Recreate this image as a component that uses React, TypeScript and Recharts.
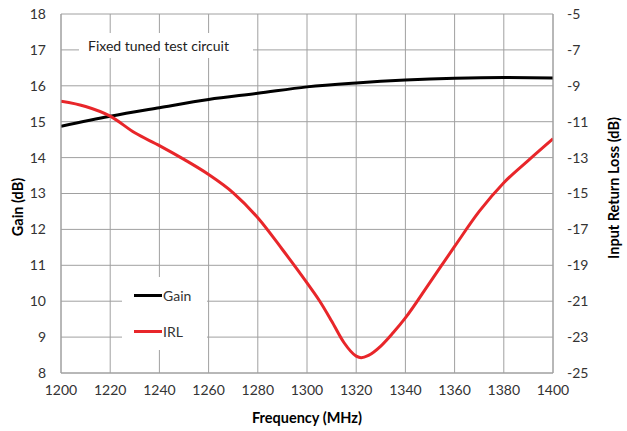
import React from 'react';
import { ComposedChart, Line, XAxis, YAxis, CartesianGrid, Legend } from 'recharts';

const freqTicks = [1200, 1220, 1240, 1260, 1280, 1300, 1320, 1340, 1360, 1380, 1400];
const freqMinorTicks = [1210, 1230, 1250, 1270, 1290, 1310, 1330, 1350, 1370, 1390];
const gainTicks = [8, 9, 10, 11, 12, 13, 14, 15, 16, 17, 18];
const gainMinorTicks = [8.5, 9.5, 10.5, 11.5, 12.5, 13.5, 14.5, 15.5, 16.5, 17.5];
const irlTicks = [-25, -23, -21, -19, -17, -15, -13, -11, -9, -7, -5];
const irlMinorTicks = [-24, -22, -20, -18, -16, -14, -12, -10, -8, -6];

const gainFreq = [1200, 1220, 1240, 1260, 1280, 1300, 1320, 1340, 1360, 1380, 1400];
const gainValues = [14.87, 15.15, 15.39, 15.62, 15.79, 15.97, 16.08, 16.16, 16.21, 16.23, 16.22];

const irlFreq = [1200, 1210, 1220, 1230, 1240, 1250, 1260, 1270, 1280, 1290, 1300, 1305, 1310, 1315, 1320, 1322, 1325, 1330, 1335, 1340, 1350, 1360, 1370, 1380, 1390, 1400];
const irlValues = [-9.86, -10.15, -10.69, -11.62, -12.33, -13.1, -13.94, -14.96, -16.35, -18.12, -19.98, -20.96, -22.1, -23.3, -24.06, -24.15, -24.02, -23.5, -22.76, -21.93, -19.95, -17.95, -16.0, -14.4, -13.15, -11.95];

const gainData = gainFreq.map((f, i) => ({ f, v: gainValues[i] }));
const irlData = irlFreq.map((f, i) => ({ f, v: irlValues[i] }));

const FONT = 'Lato, "Open Sans", sans-serif';
const GRID = '#a0a0a0';
const RED = '#e8262a';

const MinorTickX = (p: any) => (
  <line x1={p.x} x2={p.x} y1={p.y} y2={p.y - 4} stroke={GRID} strokeWidth={1} />
);
const MinorTickLeft = (p: any) => (
  <line x1={p.x} x2={p.x + 4} y1={p.y} y2={p.y} stroke={GRID} strokeWidth={1} />
);
const MinorTickRight = (p: any) => (
  <line x1={p.x} x2={p.x - 4} y1={p.y} y2={p.y} stroke={GRID} strokeWidth={1} />
);

const tickStyle = { fontFamily: FONT, fontSize: 14, fill: '#333' };
const titleStyle = { fontFamily: FONT, fontSize: 14.5, fontWeight: 700, fill: '#000' };

const LegendContent = () => (
  <div
    style={{
      background: '#fff',
      width: 85,
      height: 73,
      position: 'relative',
      fontFamily: FONT,
      fontSize: 14,
      color: '#333',
    }}
  >
    {[
      { name: 'Gain', color: '#000', top: 18 },
      { name: 'IRL', color: RED, top: 54 },
    ].map((e) => (
      <div key={e.name} style={{ position: 'absolute', left: 12, top: e.top - 9, height: 18, display: 'flex', alignItems: 'center' }}>
        <div style={{ width: 28, height: 3, background: e.color }} />
        <span style={{ marginLeft: 1 }}>{e.name}</span>
      </div>
    ))}
  </div>
);

export default function App() {
  return (
    <div style={{ position: 'absolute', left: 0, top: 0, width: 627, height: 431, background: '#fff' }}>
      <ComposedChart width={627} height={431} margin={{ top: 14, right: 0, bottom: 0, left: 0 }}>
        <XAxis
          xAxisId="minor"
          type="number"
          dataKey="f"
          domain={[1200, 1400]}
          ticks={freqMinorTicks}
          allowDataOverflow
          height={0}
          axisLine={false}
          tickLine={false}
          tickSize={0}
          tickMargin={0}
          tick={<MinorTickX />}
        />
        <XAxis
          xAxisId="main"
          type="number"
          dataKey="f"
          domain={[1200, 1400]}
          ticks={freqTicks}
          allowDataOverflow
          height={58}
          axisLine={{ stroke: GRID }}
          tickLine={false}
          tickSize={0}
          tickMargin={12}
          tick={tickStyle}
          label={{
            value: 'Frequency (MHz)',
            position: 'insideBottom',
            offset: 8,
            style: titleStyle,
          }}
        />
        <YAxis
          yAxisId="leftMinor"
          orientation="left"
          type="number"
          domain={[8, 18]}
          ticks={gainMinorTicks}
          allowDataOverflow
          width={0}
          axisLine={false}
          tickLine={false}
          tickSize={0}
          tickMargin={0}
          tick={<MinorTickLeft />}
        />
        <YAxis
          yAxisId="left"
          orientation="left"
          type="number"
          domain={[8, 18]}
          ticks={gainTicks}
          allowDataOverflow
          width={61}
          axisLine={{ stroke: GRID }}
          tickLine={false}
          tickSize={0}
          tickMargin={15}
          tick={tickStyle}
          label={(props: any) => {
            const vb = props.viewBox || {};
            const cx = (vb.x ?? 0) + 17;
            const cy = 207;
            return (
              <text
                x={cx}
                y={cy}
                transform={`rotate(-90 ${cx} ${cy})`}
                textAnchor="middle"
                dominantBaseline="central"
                style={titleStyle}
              >
                Gain (dB)
              </text>
            );
          }}
        />
        <YAxis
          yAxisId="rightMinor"
          orientation="right"
          type="number"
          domain={[-25, -5]}
          ticks={irlMinorTicks}
          allowDataOverflow
          width={0}
          axisLine={false}
          tickLine={false}
          tickSize={0}
          tickMargin={0}
          tick={<MinorTickRight />}
        />
        <YAxis
          yAxisId="right"
          orientation="right"
          type="number"
          domain={[-25, -5]}
          ticks={irlTicks}
          allowDataOverflow
          width={74}
          axisLine={{ stroke: GRID }}
          tickLine={false}
          tickSize={0}
          tickMargin={14}
          tick={tickStyle}
          label={(props: any) => {
            const vb = props.viewBox || {};
            const cx = (vb.x ?? 553) + 60;
            const cy = 188;
            return (
              <text
                x={cx}
                y={cy}
                transform={`rotate(-90 ${cx} ${cy})`}
                textAnchor="middle"
                dominantBaseline="central"
                style={titleStyle}
              >
                Input Return Loss (dB)
              </text>
            );
          }}
        />
        <CartesianGrid xAxisId="main" yAxisId="left" stroke={GRID} strokeWidth={1} />
        <Legend
          layout="vertical"
          align="center"
          verticalAlign="middle"
          wrapperStyle={{ position: 'absolute', left: 122, top: 277, width: 85, height: 73 }}
          content={<LegendContent />}
        />
        <Line
          xAxisId="main"
          yAxisId="left"
          data={gainData}
          dataKey="v"
          name="Gain"
          type="monotone"
          stroke="#000"
          strokeWidth={3}
          dot={false}
          isAnimationActive={false}
        />
        <Line
          xAxisId="main"
          yAxisId="right"
          data={irlData}
          dataKey="v"
          name="IRL"
          type="monotone"
          stroke={RED}
          strokeWidth={3}
          dot={false}
          isAnimationActive={false}
        />
      </ComposedChart>
      <div
        style={{
          position: 'absolute',
          left: 79,
          top: 33,
          width: 174,
          height: 25,
          background: '#fff',
          fontFamily: FONT,
          fontSize: 14,
          color: '#222',
          lineHeight: '25px',
          paddingLeft: 9,
          boxSizing: 'border-box',
        }}
      >
        Fixed tuned test circuit
      </div>
    </div>
  );
}
